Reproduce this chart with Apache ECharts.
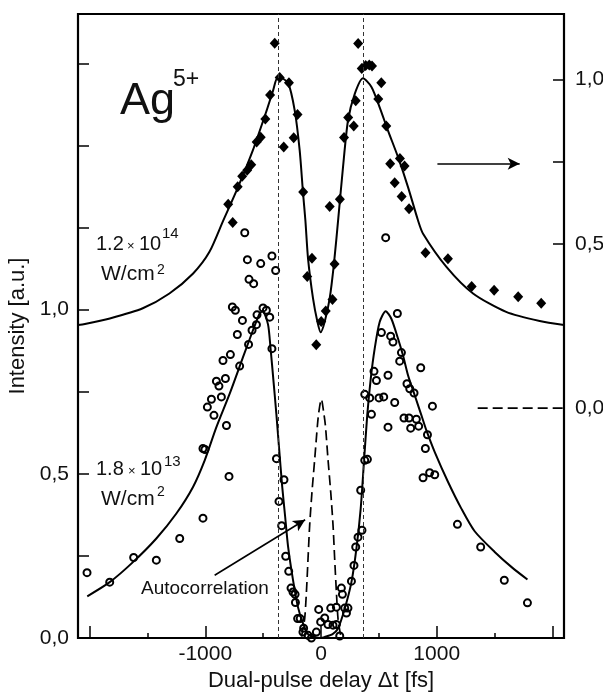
<!DOCTYPE html>
<html>
<head>
<meta charset="utf-8">
<script src="https://cdn.jsdelivr.net/npm/echarts@6.0.0/dist/echarts.min.js"></script>
<style>
  html, body { margin: 0; padding: 0; background: #fff; }
  #main { width: 603px; height: 693px; }
</style>
</head>
<body>
<div id="main"></div>
<script>
  // 1.2x10^14 W/cm2 : fit curve + diamonds, read on the right axis
  var topFit = [[-2100, 0.253], [-2040, 0.256], [-1825, 0.273], [-1540, 0.304], [-1310, 0.349], [-1105, 0.41],
    [-965, 0.475], [-845, 0.571], [-730, 0.662], [-590, 0.784], [-470, 0.906], [-415, 0.966], [-370, 1.01],
    [-285, 0.99], [-227, 0.906], [-184, 0.784], [-156, 0.658], [-135, 0.572], [-112, 0.455], [-69, 0.334],
    [-31, 0.263], [-3, 0.231], [32, 0.263], [75, 0.334], [112, 0.44], [150, 0.58], [190, 0.733], [233, 0.875],
    [291, 0.956], [363, 1.004], [436, 0.978], [507, 0.916], [579, 0.845], [666, 0.764], [752, 0.673],
    [838, 0.572], [882, 0.531], [1084, 0.43], [1314, 0.349], [1600, 0.293], [1890, 0.265], [2100, 0.253]];

  var topDiamonds = [[-400, 1.111], [-357, 1.007], [-277, 0.991], [-440, 0.953], [-481, 0.88], [-521, 0.825],
    [-556, 0.81], [-322, 0.795], [-236, 0.823], [-203, 0.894], [-603, 0.741], [-638, 0.724], [-681, 0.706],
    [-720, 0.674], [-802, 0.621], [-763, 0.565], [-154, 0.658], [-78, 0.456], [-119, 0.401], [117, 0.439],
    [99, 0.331], [41, 0.296], [2, 0.264], [-41, 0.193], [75, 0.614], [163, 0.636], [199, 0.824], [235, 0.885],
    [283, 0.859], [300, 0.936], [321, 1.11], [352, 1.034], [386, 1.043], [417, 1.045], [441, 1.042],
    [521, 0.991], [495, 0.941], [564, 0.859], [598, 0.744], [682, 0.76], [722, 0.737], [637, 0.686],
    [697, 0.644], [761, 0.607], [903, 0.473], [1097, 0.455], [1302, 0.37], [1496, 0.359], [1704, 0.339],
    [1903, 0.319]];

  // 1.8x10^13 W/cm2 : fit curve + open circles, read on the left axis
  var lowFit = [[-2020, 0.127], [-1826, 0.17], [-1625, 0.231], [-1423, 0.303], [-1250, 0.379], [-1106, 0.46],
    [-1005, 0.541], [-904, 0.642], [-789, 0.744], [-674, 0.855], [-588, 0.937], [-530, 0.988], [-505, 0.995],
    [-458, 0.955], [-437, 0.886], [-410, 0.78], [-386, 0.683], [-363, 0.581], [-335, 0.46], [-310, 0.37],
    [-285, 0.28], [-242, 0.177], [-199, 0.094], [-156, 0.045], [-112, 0.012], [-60, 0.003], [0, 0],
    [32, 0.003], [100, 0.012], [147, 0.029], [205, 0.089], [263, 0.17], [306, 0.272], [343, 0.394],
    [372, 0.54], [400, 0.68], [430, 0.79], [464, 0.881], [507, 0.962], [559, 0.995], [608, 0.972],
    [666, 0.911], [709, 0.86], [752, 0.8], [810, 0.739], [868, 0.678], [911, 0.632], [983, 0.566],
    [1098, 0.475], [1213, 0.394], [1328, 0.325], [1501, 0.262], [1650, 0.215], [1784, 0.178]];

  var lowCircles = [[-659, 1.234], [-636, 1.152], [-521, 1.14], [-424, 1.163], [-392, 1.119], [-622, 1.092],
    [-582, 1.079], [559, 1.219], [660, 0.988],
    [-766, 1.008], [-740, 0.998], [-679, 0.967], [-501, 1.005], [-472, 0.998], [-443, 0.977], [-553, 0.984],
    [-596, 0.937], [-558, 0.954], [-723, 0.924], [-626, 0.894], [-424, 0.881], [-783, 0.863], [-847, 0.845],
    [-703, 0.828], [-826, 0.79], [-904, 0.782], [-882, 0.767], [-861, 0.734], [-947, 0.727], [-982, 0.703],
    [-925, 0.678], [-817, 0.647], [-1020, 0.577], [-1003, 0.574], [-795, 0.492], [-1020, 0.365],
    [-1221, 0.303], [-1423, 0.237], [-1619, 0.245], [-1826, 0.17], [-2022, 0.199],
    [-385, 0.546], [-320, 0.482], [-363, 0.416], [-340, 0.342], [-305, 0.249], [-279, 0.203], [-259, 0.152],
    [-242, 0.14], [-224, 0.133], [-221, 0.108], [-202, 0.059], [-180, 0.059], [-150, 0.03], [-156, 0.018],
    [-112, 0.008], [-83, 0],
    [-40, 0.018], [-20, 0.087], [-3, 0.049], [32, 0.061], [60, 0.041], [84, 0.091], [104, 0.039],
    [133, 0.041], [162, 0.006], [133, 0.094], [176, 0.152], [185, 0.133], [205, 0.091], [233, 0.091],
    [220, 0.076],
    [263, 0.173], [285, 0.221], [300, 0.277], [320, 0.307], [354, 0.328], [343, 0.45], [378, 0.541],
    [401, 0.544],
    [522, 0.93], [602, 0.919], [622, 0.901], [695, 0.869], [680, 0.843], [862, 0.823], [458, 0.812],
    [479, 0.784], [579, 0.8], [743, 0.774], [767, 0.759], [804, 0.746], [378, 0.742], [421, 0.731],
    [501, 0.731], [542, 0.734], [637, 0.717], [963, 0.706], [436, 0.681], [579, 0.642], [717, 0.67],
    [761, 0.67], [824, 0.666], [844, 0.645], [775, 0.639], [920, 0.619], [902, 0.577], [882, 0.488],
    [939, 0.503], [983, 0.497], [1179, 0.346], [1380, 0.277], [1584, 0.176], [1784, 0.107]];

  // autocorrelation trace (dashed)
  var autoCorr = [[-168, 0.004], [-156, 0.029], [-141, 0.059], [-126, 0.14], [-112, 0.242], [-98, 0.343],
    [-78, 0.444], [-54, 0.546], [-31, 0.647], [-18, 0.69], [3, 0.727], [22, 0.69], [38, 0.647], [60, 0.546],
    [84, 0.444], [104, 0.343], [118, 0.242], [133, 0.14], [147, 0.059], [162, 0.023], [172, 0.004]];

  // zero marker of the right axis
  var rightZero = [[1354, 0], [2100, 0]];

  var peakDelays = [-366, 368];
  var xMajorTicks = [-2000, -1000, 0, 1000, 2000];
  var xMinorTicks = [-1500, -500, 500, 1500];
  var xLabels = [-1000, 0, 1000];
  var leftTicks = [0.25, 0.5, 0.75, 1.0, 1.25, 1.5, 1.75];
  var leftLabels = [0, 0.5, 1.0];
  var rightTicks = [0.5, 0.75, 1.0];
  var rightLabels = [0, 0.5, 1.0];

  var FONT = 'Liberation Sans, Arial, sans-serif';

  function comma(v) {
    return v.toFixed(1).replace('.', ',');
  }

  // text helper: y is the baseline
  function txt(x, base, size, s) {
    return {
      type: 'text', x: x, y: base - 0.3465 * size, silent: true,
      style: {
        text: s, font: size + 'px ' + FONT, fill: '#111',
        textAlign: 'left', textVerticalAlign: 'middle', align: 'left', verticalAlign: 'middle'
      }
    };
  }

  var myChart = echarts.init(document.getElementById('main'), null, {renderer: 'canvas'});

  var option = {
    animation: false,
    backgroundColor: '#fff',
    grid: {
      left: 78, right: 39, top: 14, bottom: 55, outerBoundsMode: 'none', containLabel: false,
      show: true, borderColor: '#000', borderWidth: 2.2, backgroundColor: 'transparent'
    },
    xAxis: [
      {
        type: 'value', min: -2100, max: 2100, position: 'bottom',
        name: 'Dual-pulse delay \u0394t [fs]', nameLocation: 'middle', nameGap: 26,
        nameTextStyle: {fontFamily: FONT, fontSize: 22, color: '#111'},
        axisLine: {show: false, onZero: false},
        axisTick: {show: true, inside: true, length: 12, customValues: xMajorTicks,
          lineStyle: {color: '#000', width: 1.5}},
        axisLabel: {customValues: xLabels, formatter: function (v) { return String(v); },
          fontFamily: FONT, fontSize: 21, color: '#111', margin: 6},
        splitLine: {show: false}
      },
      {
        type: 'value', min: -2100, max: 2100, position: 'bottom',
        axisLine: {show: false, onZero: false},
        axisTick: {show: true, inside: true, length: 5, customValues: xMinorTicks,
          lineStyle: {color: '#000', width: 1.5}},
        axisLabel: {show: false},
        splitLine: {show: false}
      }
    ],
    yAxis: [
      {
        type: 'value', min: 0, max: 1.9, position: 'left',
        name: 'Intensity [a.u.]', nameLocation: 'middle', nameGap: 42,
        nameTextStyle: {fontFamily: FONT, fontSize: 22, color: '#111'},
        axisLine: {show: false, onZero: false},
        axisTick: {show: true, inside: true, length: 11, customValues: leftTicks,
          lineStyle: {color: '#000', width: 1.5}},
        axisLabel: {customValues: leftLabels, formatter: comma, fontFamily: FONT, fontSize: 21,
          color: '#111', margin: 9},
        splitLine: {show: false}
      },
      {
        type: 'value', min: -0.7, max: 1.2, position: 'right',
        axisLine: {show: false, onZero: false},
        axisTick: {show: true, inside: true, length: 11, customValues: rightTicks,
          lineStyle: {color: '#000', width: 1.5}},
        axisLabel: {customValues: rightLabels, formatter: comma, fontFamily: FONT, fontSize: 21,
          color: '#111', margin: 11},
        splitLine: {show: false}
      }
    ],
    series: [
      {
        name: 'fit high', type: 'line', yAxisIndex: 1, data: topFit, smooth: 0.25,
        showSymbol: false, lineStyle: {color: '#000', width: 2}, z: 3
      },
      {
        name: 'high', type: 'scatter', yAxisIndex: 1, data: topDiamonds,
        symbol: 'diamond', symbolSize: [10, 11], itemStyle: {color: '#000', opacity: 1}, z: 4
      },
      {
        name: 'fit low', type: 'line', yAxisIndex: 0, data: lowFit, smooth: 0.25,
        showSymbol: false, lineStyle: {color: '#000', width: 2}, z: 3,
        markLine: {
          silent: true, symbol: 'none', label: {show: false},
          lineStyle: {color: '#333', width: 1, type: [4, 3]},
          data: peakDelays.map(function (d) { return {xAxis: d}; })
        }
      },
      {
        name: 'low', type: 'scatter', yAxisIndex: 0, data: lowCircles,
        symbol: 'circle', symbolSize: 7,
        itemStyle: {color: 'rgba(255,255,255,0)', borderColor: '#000', borderWidth: 2, opacity: 1}, z: 4
      },
      {
        name: 'autocorrelation', type: 'line', yAxisIndex: 0, data: autoCorr, smooth: 0.3,
        showSymbol: false, lineStyle: {color: '#000', width: 1.7, type: [10, 5]}, z: 3,
        markLine: {
          silent: true, label: {show: false},
          symbol: ['none', 'arrow'], symbolSize: [9, 12],
          lineStyle: {color: '#000', width: 1.6, type: 'solid'},
          data: [
            [{coord: [-919, 0.191]}, {coord: [-137, 0.36]}],
            [{coord: [1006, 1.444]}, {coord: [1717, 1.444]}]
          ]
        }
      },
      {
        name: 'zero', type: 'line', yAxisIndex: 1, data: rightZero,
        showSymbol: false, lineStyle: {color: '#000', width: 1.7, type: [10, 5]}, z: 3
      }
    ],
    graphic: [
      txt(120, 116.7, 45, 'Ag'),
      txt(173, 88, 23, '5+'),
      txt(96, 251.7, 20, '1.2'),
      txt(127, 250.5, 13, '\u00d7'),
      txt(139, 251.7, 20, '10'),
      txt(162, 239, 15, '14'),
      txt(101, 281.7, 21, 'W/cm'),
      txt(157, 275, 14, '2'),
      txt(96, 476.7, 20, '1.8'),
      txt(128, 475.5, 13, '\u00d7'),
      txt(140, 476.7, 20, '10'),
      txt(164, 466.7, 15, '13'),
      txt(101, 506, 21, 'W/cm'),
      txt(157, 496.7, 14, '2'),
      txt(141, 595.7, 19, 'Autocorrelation')
    ]
  };

  if (option && typeof option === 'object') {
    myChart.setOption(option, true);
  }
</script>
</body>
</html>
